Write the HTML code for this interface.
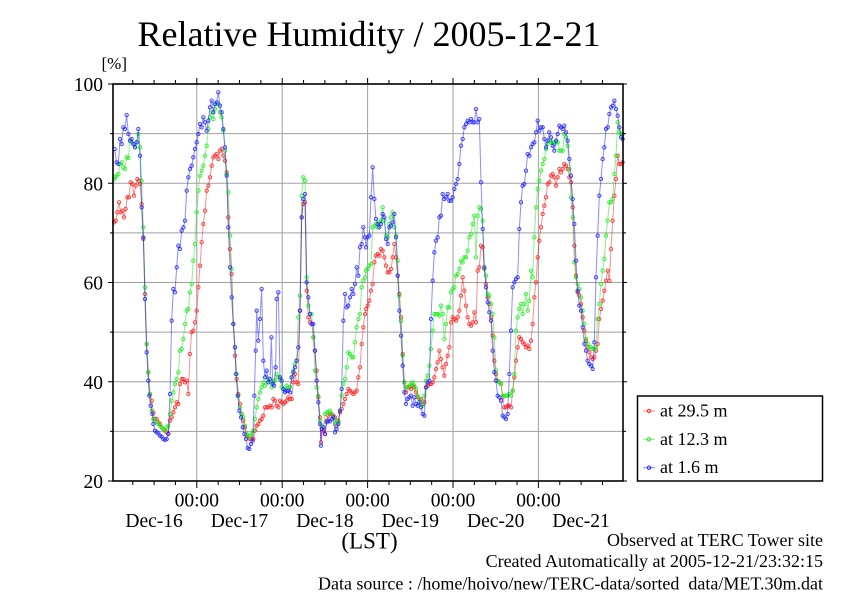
<!DOCTYPE html>
<html><head><meta charset="utf-8"><style>
html,body{margin:0;padding:0;background:#fff;}
svg{display:block;}
text{font-family:"Liberation Serif",serif;fill:#000;}
</style></head><body>
<svg width="842" height="595" viewBox="0 0 842 595" xmlns="http://www.w3.org/2000/svg">
<defs>
<marker id="mr" markerUnits="userSpaceOnUse" viewBox="-9 -9 18 18" markerWidth="18" markerHeight="18" refX="0" refY="0" overflow="visible"><circle r="5" fill="none" stroke="#ff2a2a" stroke-opacity="0.85" stroke-width="3"/></marker>
<marker id="mg" markerUnits="userSpaceOnUse" viewBox="-9 -9 18 18" markerWidth="18" markerHeight="18" refX="0" refY="0" overflow="visible"><circle r="5" fill="none" stroke="#22ee22" stroke-opacity="0.85" stroke-width="3"/></marker>
<marker id="mb" markerUnits="userSpaceOnUse" viewBox="-9 -9 18 18" markerWidth="18" markerHeight="18" refX="0" refY="0" overflow="visible"><circle r="5" fill="none" stroke="#2a2aff" stroke-opacity="0.85" stroke-width="3"/></marker>
</defs>
<rect width="842" height="595" fill="#fff"/>
<text x="369" y="46" font-size="36" text-anchor="middle">Relative Humidity / 2005-12-21</text>
<text x="101.5" y="69" font-size="17">[%]</text>

<!-- grid -->
<g stroke="#a0a0a0" stroke-width="1" fill="none">
<path d="M113 133.6H623M113 183.25H623M113 232.9H623M113 282.5H623M113 332.1H623M113 381.75H623M113 431.4H623"/>
<path d="M196.8 84V481M282.2 84V481M367.6 84V481M453 84V481M538.4 84V481"/>
</g>

<!-- series zoom11 region -->
<g transform="translate(110 84) scale(0.333333)" fill="none" stroke-width="3" stroke-linejoin="round">
<polyline stroke="#ff0000" stroke-opacity="0.45" marker-start="url(#mr)" marker-mid="url(#mr)" marker-end="url(#mr)" points="12,415 17,410 22,385 27,355 32,385 37,380 42,400 47,375 52,340 57,340 62,295 67,300 72,335 77,305 82,285 87,290 90,300 95,360 100,465 105,630 110,780 115,865 120,930 125,950 130,985 135,1005 140,1005 145,1015 150,1020 155,1030 160,1035 165,1040 170,1045 175,1050 180,1010 185,1000 190,985 195,970 200,955 205,960 210,900 215,885 220,885 225,895 230,890 235,930 240,810 245,745 250,740 255,715 260,680 265,610 270,545 275,475 280,420 285,380 290,320 295,305 300,280 305,245 310,220 315,215 320,210 325,225 330,200 335,195 340,215 345,230 350,265 355,400 360,495 365,570 370,720 375,815 380,885 385,930 390,960 395,990 400,1010 405,1030 410,1055 415,1060 420,1065 425,1065 430,1065 435,1040 440,1025 445,1020 450,1010 455,1005 460,995 465,970 470,970 475,970 480,965 485,970 490,945 495,950 500,965 505,970 510,950 515,955 520,960 525,955 530,950 535,940 540,945 545,945 550,895 555,870 560,895 565,900 570,680 575,400 580,360 585,355 590,620 595,700 600,715 605,720 610,760 615,800 620,860 625,940 630,1000 633,1075 636,1035 640,1040 645,1050 650,1010 655,995 660,990 665,990 670,995 675,1000 680,1025 685,1010 690,985 695,975 700,960 705,945 710,930 715,915 720,920 725,925 730,930 735,925 740,920 745,880 750,850 755,780 760,730 765,690"/>
<polyline stroke="#00dd00" stroke-opacity="0.45" marker-start="url(#mg)" marker-mid="url(#mg)" marker-end="url(#mg)" points="12,285 15,280 20,275 25,270 30,240 35,235 40,250 45,255 50,220 55,222 60,170 65,175 70,180 75,190 80,175 85,150 90,190 95,290 100,430 105,610 110,780 115,865 120,930 125,980 130,1005 135,1010 140,1015 145,1020 150,1025 155,1030 160,1035 165,1040 170,1030 175,1025 180,990 185,950 190,925 195,900 200,885 205,865 210,800 215,795 220,765 225,720 230,680 235,675 240,625 245,600 250,530 255,480 260,385 265,320 270,275 275,260 280,245 285,215 290,185 295,135 300,100 305,85 310,105 315,75 320,60 325,60 330,85 335,100 340,140 345,200 350,270 355,325 360,455 365,555 370,720 375,790 380,870 385,935 390,970 395,990 400,1000 405,1025 410,1050 415,1060 420,1055 425,1050 430,1040 435,1005 440,970 445,945 450,925 455,910 460,895 465,905 470,880 475,895 480,890 485,910 490,895 495,890 500,870 505,880 510,885 515,910 520,915 525,920 530,905 535,910 540,910 545,880 550,860 555,840 560,830 565,700 570,635 575,335 580,280 585,290 590,580 595,665 600,690 605,690 610,760 615,860 620,910 625,935 630,1010 635,1025 640,1030 645,990 650,985 655,985 660,980 665,990 670,1000 675,1020 680,1010 685,1015 690,980 695,935 700,900 705,885 710,850 715,805 720,810 725,820 730,820 735,775 740,730 745,705 750,690 755,610 760,590 765,580"/>
<polyline stroke="#0000ff" stroke-opacity="0.45" marker-start="url(#mb)" marker-mid="url(#mb)" marker-end="url(#mb)" points="14,195 20,235 25,240 30,165 35,180 40,130 45,135 50,93 55,150 60,170 65,165 70,180 75,190 80,175 85,135 90,215 95,370 100,460 105,645 110,805 115,890 118,935 122,965 127,990 130,1020 135,1040 140,1045 145,1048 150,1055 155,1058 160,1065 165,1068 170,1065 175,1050 180,930 185,710 190,615 195,625 200,550 205,485 210,495 215,440 220,430 225,410 230,320 235,280 240,255 245,245 250,220 255,195 260,175 265,150 270,120 275,130 280,100 285,115 290,140 295,110 300,70 305,50 310,85 315,60 320,55 325,25 330,65 335,85 340,135 345,190 350,275 355,430 360,550 365,640 370,720 375,790 378,870 383,935 388,980 393,1000 398,1030 403,1050 408,1065 413,1092 418,1095 423,1080 428,1070 433,935 437,800 440,680 445,770 450,705 455,615 460,830 465,880 470,860 475,895 480,885 484,760 488,900 492,905 497,850 500,645 505,625 510,880 515,890 520,915 525,925 530,920 535,920 540,925 545,880 550,865 555,850 560,830 565,790 570,680 575,400 580,345 585,330 590,595 595,640 600,690 605,720 610,720 615,800 620,890 625,955 630,1020 633,1085 636,1035 640,1030 645,1050 650,1015 655,1010 660,1012 665,1005 670,1000 675,1045 680,1035 685,1020 690,980 695,915 700,710 705,630 710,670 715,665 720,640 725,615 730,630 735,600 740,550 745,575 750,490 755,480 760,430 765,460"/>
</g>

<!-- series zoom12 region -->
<g transform="translate(366 84) scale(0.333333)" fill="none" stroke-width="3" stroke-linejoin="round">
<polyline stroke="#ff0000" stroke-opacity="0.45" marker-mid="url(#mr)" marker-end="url(#mr)" points="-3,690 0,675 5,665 10,650 15,620 20,600 25,535 30,515 35,510 40,515 45,495 50,500 55,520 60,545 65,565 70,565 75,555 80,520 85,480 90,520 95,575 100,630 105,700 110,810 115,895 120,925 125,910 130,910 135,915 140,905 145,910 150,925 155,940 160,945 165,945 170,960 175,955 180,910 185,905 190,900 195,900 200,895 205,880 210,855 215,835 220,800 225,825 230,850 235,875 240,840 245,815 250,790 255,715 260,700 265,705 270,710 275,700 280,680 285,635 290,580 295,620 300,665 305,700 310,720 315,725 320,715 325,685 330,715 335,560 340,550 345,485 350,490 355,555 360,600 365,640 370,660 375,700 380,755 385,830 390,870 395,890 400,895 405,900 410,940 415,970 420,970 425,965 430,965 435,970 440,920 445,880 450,830 455,790 460,760 465,765 470,775 475,780 480,790 485,785 490,795 495,770 500,720 505,640 510,595 515,520 520,470 525,430 530,390 535,365 540,340 545,300 550,295 555,275 560,270 565,280 570,305 575,280 580,255 585,265 590,255 595,240 600,245 605,255 610,280 615,295 620,370 625,485 630,575 635,625 640,635 645,660 650,700 655,740 660,770 665,790 670,805 675,820 680,825 685,820 690,800 695,780 700,705 705,675 710,650 715,620 720,590 725,560 730,590 735,495 740,410 745,335 750,285 755,215 760,240 765,240 770,235"/>
<polyline stroke="#00dd00" stroke-opacity="0.45" marker-mid="url(#mg)" marker-end="url(#mg)" points="-3,580 0,560 5,555 10,545 15,540 20,430 25,425 30,420 35,430 40,415 45,410 50,370 55,410 60,455 65,460 70,420 75,400 80,385 85,430 90,455 95,530 100,635 105,710 110,815 115,895 120,910 125,910 130,905 135,900 140,895 145,905 150,915 155,935 160,945 165,955 170,965 175,935 180,890 185,875 190,845 195,795 200,740 205,690 210,690 215,690 220,695 225,665 230,690 235,765 240,720 245,670 250,670 255,625 260,615 265,610 270,575 275,570 280,555 285,530 290,535 295,520 300,520 305,500 310,460 315,450 320,420 325,395 330,520 335,395 340,370 345,375 350,410 355,555 360,575 365,630 370,635 375,660 380,690 385,760 390,860 395,890 400,895 405,900 410,935 415,935 420,935 425,935 430,930 435,935 440,920 445,870 450,740 455,700 460,675 465,660 470,690 475,660 480,630 485,680 490,650 495,560 500,580 505,460 510,370 515,315 520,290 525,260 530,240 535,225 540,195 545,180 550,170 555,175 560,175 565,180 570,175 575,175 580,200 585,200 590,200 595,150 600,160 605,185 610,255 615,340 620,400 625,535 630,580 635,600 640,615 645,640 650,680 655,720 660,765 665,780 670,790 675,790 680,795 685,795 690,790 695,705 700,660 705,600 710,560 715,525 720,455 725,410 730,355 735,355 740,345 745,270 750,215 755,115 760,145 765,150 770,150"/>
<polyline stroke="#0000ff" stroke-opacity="0.45" marker-mid="url(#mb)" marker-end="url(#mb)" points="-3,460 0,490 5,460 10,455 15,340 20,250 25,345 30,405 35,420 40,430 45,420 50,390 55,400 60,465 65,480 70,430 75,425 80,415 85,390 90,460 95,575 100,680 105,755 110,845 115,925 120,960 125,945 130,940 135,935 140,965 145,940 150,960 155,965 160,955 165,970 170,990 175,995 180,910 185,895 190,890 195,705 200,590 205,505 210,470 215,460 220,400 225,395 230,330 235,345 240,340 245,330 250,350 255,350 260,340 265,315 270,300 275,285 280,240 285,185 290,165 295,130 300,120 305,110 310,115 315,105 320,115 325,115 330,75 335,115 340,105 345,295 350,435 355,550 360,610 365,655 370,685 375,710 380,800 385,865 390,890 395,935 400,940 405,950 410,995 415,1000 420,1005 425,990 430,870 435,740 440,610 445,595 450,585 455,580 460,435 465,355 470,305 475,300 480,260 485,210 490,215 495,190 500,180 505,175 510,145 515,110 520,140 525,130 530,130 535,165 540,190 545,170 550,145 555,160 560,185 565,200 570,170 575,150 580,125 585,130 590,135 595,125 600,145 605,170 610,225 615,275 620,345 625,420 630,530 635,620 640,665 645,680 650,730 655,780 660,800 665,830 670,840 675,845 680,855 685,775 690,580 695,455 700,335 705,285 710,225 715,190 720,135 725,130 730,90 735,70 740,65 745,50 750,75 755,95 760,130 765,160 770,165"/>
</g>

<!-- frame and ticks -->
<rect x="113" y="84" width="510" height="397" fill="none" stroke="#000" stroke-width="1.6"/>
<g stroke="#000" stroke-width="1" fill="none">
<path d="M132.75 481v4M154.1 481v4M175.45 481v4M218.15 481v4M239.5 481v4M260.85 481v4M303.55 481v4M324.9 481v4M346.25 481v4M388.95 481v4M410.3 481v4M431.65 481v4M474.35 481v4M495.7 481v4M517.05 481v4M559.75 481v4M581.1 481v4M602.45 481v4"/>
<path d="M196.8 481v7M282.2 481v7M367.6 481v7M453 481v7M538.4 481v7"/>
<path d="M132.75 84v-4M154.1 84v-4M175.45 84v-4M218.15 84v-4M239.5 84v-4M260.85 84v-4M303.55 84v-4M324.9 84v-4M346.25 84v-4M388.95 84v-4M410.3 84v-4M431.65 84v-4M474.35 84v-4M495.7 84v-4M517.05 84v-4M559.75 84v-4M581.1 84v-4M602.45 84v-4"/>
<path d="M196.8 84v-6M282.2 84v-6M367.6 84v-6M453 84v-6M538.4 84v-6"/>
<path d="M113 84h-5M113 183.25h-5M113 282.5h-5M113 381.75h-5M113 481h-5M113 133.6h-3M113 232.9h-3M113 332.1h-3M113 431.4h-3"/>
<path d="M623 84h4M623 183.25h4M623 282.5h4M623 381.75h4M623 481h4M623 133.6h3M623 232.9h3M623 332.1h3M623 431.4h3"/>
</g>

<!-- y labels -->
<g font-size="19.5" text-anchor="end">
<text x="103" y="91">100</text>
<text x="103" y="190.5">80</text>
<text x="103" y="289.7">60</text>
<text x="103" y="389">40</text>
<text x="103" y="488.2">20</text>
</g>
<!-- x labels -->
<g font-size="19.5" text-anchor="middle">
<text x="196.8" y="506.5">00:00</text>
<text x="282.2" y="506.5">00:00</text>
<text x="367.6" y="506.5">00:00</text>
<text x="453" y="506.5">00:00</text>
<text x="538.4" y="506.5">00:00</text>
<text x="154.1" y="527">Dec-16</text>
<text x="239.5" y="527">Dec-17</text>
<text x="324.9" y="527">Dec-18</text>
<text x="410.3" y="527">Dec-19</text>
<text x="495.7" y="527">Dec-20</text>
<text x="581.1" y="527">Dec-21</text>
</g>
<text x="369.5" y="548.5" font-size="23" text-anchor="middle">(LST)</text>

<!-- legend -->
<rect x="637.5" y="396" width="185" height="85" fill="#fff" stroke="#000" stroke-width="1.5"/>
<g stroke-width="1" fill="none">
<path d="M643 411h12" stroke="#ff0000" stroke-opacity="0.5"/>
<circle cx="649" cy="411" r="1.7" stroke="#ff2a2a"/>
<path d="M643 439.3h12" stroke="#00dd00" stroke-opacity="0.5"/>
<circle cx="649" cy="439.3" r="1.7" stroke="#22ee22"/>
<path d="M643 467.7h12" stroke="#0000ff" stroke-opacity="0.5"/>
<circle cx="649" cy="467.7" r="1.7" stroke="#2a2aff"/>
</g>
<g font-size="18">
<text x="660" y="416.5">at 29.5 m</text>
<text x="660" y="444.8">at 12.3 m</text>
<text x="660" y="473.2">at 1.6 m</text>
</g>

<!-- footer -->
<g font-size="18" text-anchor="end">
<text x="823" y="546">Observed at TERC Tower site</text>
<text x="823" y="567">Created Automatically at 2005-12-21/23:32:15</text>
<text x="823" y="589.5" xml:space="preserve">Data source : /home/hoivo/new/TERC-data/sorted  data/MET.30m.dat</text>
</g>
</svg>
</body></html>
